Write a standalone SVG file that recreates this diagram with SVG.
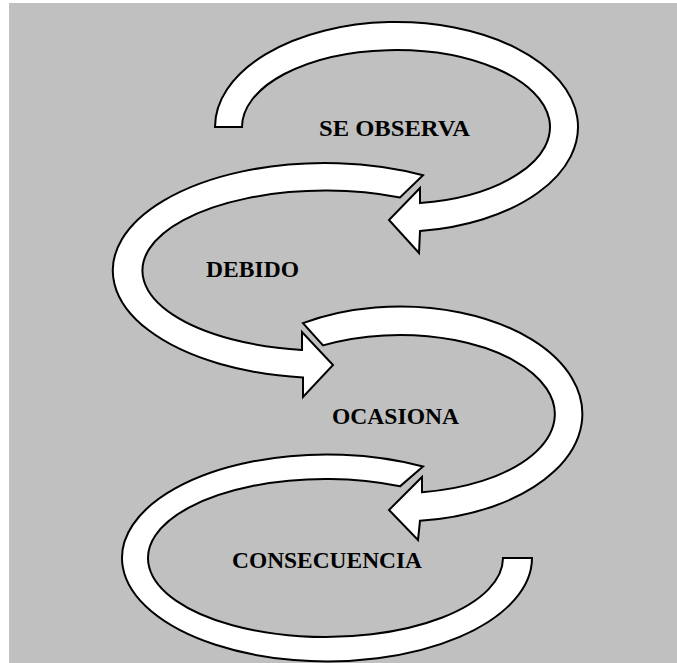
<svg xmlns="http://www.w3.org/2000/svg" width="677" height="663" viewBox="0 0 677 663">
<style>
.arrow{fill:#ffffff;stroke:#000000;stroke-width:2;stroke-linejoin:miter}
.lbl{font-family:"Liberation Serif","Times New Roman",serif;font-weight:bold;font-size:23px;fill:#000000}
</style>
<rect x="0" y="0" width="677" height="663" fill="#ffffff"/>
<rect x="9" y="3" width="668" height="660" fill="#c0c0c0"/>
<g id="connectors">
<path id="arrow1" class="arrow" d="M215,127 A181.5,105 0 1 1 420,231.1 L419,253 L389,220 L420,188 L420,203.1 A154,77 0 1 0 242,127 Z"/>
<path id="arrow2" class="arrow" d="M423,175.2 A212,107.5 0 1 0 303,377.4 L303,397 L333,365 L302,332 L302,349.9 A183,80 0 1 1 400,197.5 Z"/>
<path id="arrow3" class="arrow" d="M303,323.1 A182,107.5 0 1 1 420,520.8 L418,540 L389,510 L422,477 L422,492.2 A155,79 0 1 0 323,345.4 Z"/>
<path id="arrow4" class="arrow" d="M423,466.5 A205,103.5 0 1 0 532,558 L503,558 A177.5,79 0 1 1 400,486.3 Z"/>
</g>
<g id="node-se-observa"><text class="lbl" x="319" y="136" textLength="151" lengthAdjust="spacingAndGlyphs">SE OBSERVA</text></g>
<g id="node-debido"><text class="lbl" x="206" y="277" textLength="93" lengthAdjust="spacingAndGlyphs">DEBIDO</text></g>
<g id="node-ocasiona"><text class="lbl" x="332" y="424" textLength="127" lengthAdjust="spacingAndGlyphs">OCASIONA</text></g>
<g id="node-consecuencia"><text class="lbl" x="232" y="568" textLength="190" lengthAdjust="spacingAndGlyphs">CONSECUENCIA</text></g>
</svg>
